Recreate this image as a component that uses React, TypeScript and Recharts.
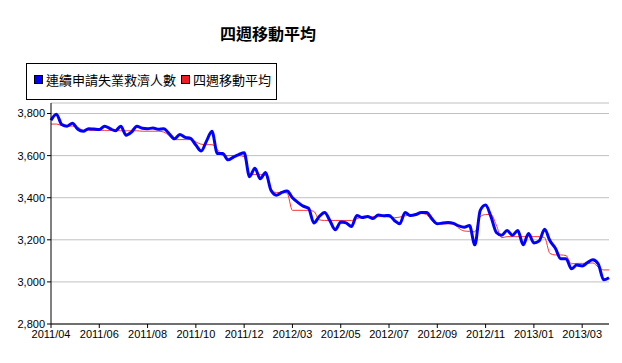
import React from "react";
import { LineChart, Line, XAxis, YAxis, CartesianGrid } from "recharts";

const chartTitle = "四週移動平均";
const seriesNames = ["連續申請失業救濟人數", "四週移動平均"];
const yTicks = [2800, 3000, 3200, 3400, 3600, 3800];
const firstWeek = [2011, 4, 23];

const claims = [
  3768, 3797, 3748, 3740, 3754, 3725, 3716, 3728, 3726, 3724,
  3740, 3728, 3718, 3740, 3697, 3712, 3740, 3730, 3728, 3731,
  3725, 3728, 3705, 3680, 3700, 3687, 3682, 3650, 3622, 3670,
  3716, 3610, 3610, 3580, 3593, 3605, 3614, 3500, 3540, 3490,
  3520, 3435, 3412, 3425, 3432, 3400, 3378, 3360, 3350, 3280,
  3311, 3330, 3290, 3248, 3285, 3280, 3263, 3316, 3306, 3311,
  3301, 3318, 3314, 3316, 3292, 3276, 3330, 3315, 3320, 3330,
  3330, 3300, 3276, 3280, 3282, 3278, 3266, 3260, 3268, 3176,
  3340, 3365, 3310, 3235, 3222, 3244, 3222, 3244, 3176, 3230,
  3185, 3195, 3250, 3195, 3160, 3110, 3110, 3062, 3080, 3076,
  3092, 3105, 3085, 3010, 3020,
];

const movingAvg = [
  3750, 3750, 3743, 3740, 3740, 3735, 3720, 3720, 3720, 3720,
  3720, 3720, 3720, 3718, 3718, 3718, 3718, 3716, 3716, 3716,
  3716, 3712, 3695, 3676, 3676, 3676, 3676, 3665, 3654, 3652,
  3652, 3630, 3600, 3600, 3600, 3600, 3595, 3510, 3510, 3510,
  3505, 3435, 3425, 3425, 3422, 3340, 3340, 3340, 3340, 3335,
  3295, 3292, 3292, 3292, 3292, 3292, 3292, 3300, 3308, 3310,
  3310, 3310, 3310, 3308, 3305, 3308, 3314, 3318, 3322, 3325,
  3320, 3290, 3276, 3276, 3276, 3276, 3255, 3242, 3240, 3238,
  3310, 3320, 3320, 3270, 3210, 3215, 3215, 3215, 3215, 3215,
  3215, 3215, 3210, 3135, 3128, 3128, 3125, 3086, 3088, 3088,
  3088, 3090, 3070, 3057, 3057,
];

const pad = (n: number) => (n < 10 ? "0" + n : "" + n);
const start = new Date(Date.UTC(firstWeek[0], firstWeek[1] - 1, firstWeek[2]));
const data = claims.map((v, i) => {
  const d = new Date(start.getTime() + i * 7 * 86400000);
  return {
    week: `${d.getUTCFullYear()}/${pad(d.getUTCMonth() + 1)}/${pad(d.getUTCDate())}`,
    claims: v,
    avg: movingAvg[i],
  };
});

const fmtY = (v: number) => v.toLocaleString("en-US");
const fmtX = (s: string) => s.slice(0, 7);

const BLUE = "#0000ff";
const RED = "#ff3333";

export default function App() {
  return (
    <div
      style={{
        position: "absolute",
        left: 0,
        top: 0,
        width: 622,
        height: 363,
        background: "#fff",
        fontFamily: "'Liberation Sans', Arial, sans-serif",
      }}
    >
      <div
        style={{
          position: "absolute",
          left: 168,
          width: 200,
          top: 21,
          textAlign: "center",
          fontFamily: "'Noto Sans CJK TC', sans-serif",
          fontWeight: "bold",
          fontSize: 16,
          lineHeight: "24px",
          color: "#000",
        }}
      >
        {chartTitle}
      </div>
      <div
        style={{
          position: "absolute",
          left: 26,
          top: 63,
          width: 249,
          height: 35,
          border: "1px solid #000",
          fontFamily: "'Noto Sans CJK TC', sans-serif",
          fontSize: 13,
          color: "#000",
        }}
      >
        <div style={{ position: "absolute", left: 7, top: 11, width: 7, height: 7, background: BLUE, border: "1px solid #000" }} />
        <div style={{ position: "absolute", left: 19, top: 6, lineHeight: "20px", whiteSpace: "nowrap" }}>{seriesNames[0]}</div>
        <div style={{ position: "absolute", left: 154, top: 11, width: 7, height: 7, background: "#ee1c24", border: "1px solid #000" }} />
        <div style={{ position: "absolute", left: 166, top: 6, lineHeight: "20px", whiteSpace: "nowrap" }}>{seriesNames[1]}</div>
      </div>
      <div style={{ position: "absolute", left: 0, top: 0 }}>
        <LineChart
          width={622}
          height={363}
          data={data}
          margin={{ top: 103, right: 13, bottom: 0, left: 0 }}
        >
          <CartesianGrid horizontal vertical={false} stroke="#c0c0c0" strokeWidth={1} />
          <XAxis
            dataKey="week"
            interval={8}
            tickFormatter={fmtX}
            tickSize={4}
            height={39}
            axisLine={{ stroke: "#000", strokeWidth: 1 }}
            tickLine={{ stroke: "#000" }}
            tick={{ fill: "#000", fontSize: 11, fontFamily: "'Liberation Sans', Arial, sans-serif" }}
          />
          <YAxis
            domain={[2800, 3850]}
            ticks={yTicks}
            tickFormatter={fmtY}
            width={51}
            tickSize={4}
            allowDataOverflow
            axisLine={{ stroke: "#000", strokeWidth: 1 }}
            tickLine={{ stroke: "#000" }}
            tick={{ fill: "#000", fontSize: 11, fontFamily: "'Liberation Sans', Arial, sans-serif" }}
          />
          <Line
            type="monotone"
            dataKey="avg"
            name={seriesNames[1]}
            stroke={RED}
            strokeWidth={1}
            dot={false}
            isAnimationActive={false}
          />
          <Line
            type="monotone"
            dataKey="claims"
            name={seriesNames[0]}
            stroke={BLUE}
            strokeWidth={3}
            dot={false}
            isAnimationActive={false}
          />
        </LineChart>
      </div>
    </div>
  );
}
